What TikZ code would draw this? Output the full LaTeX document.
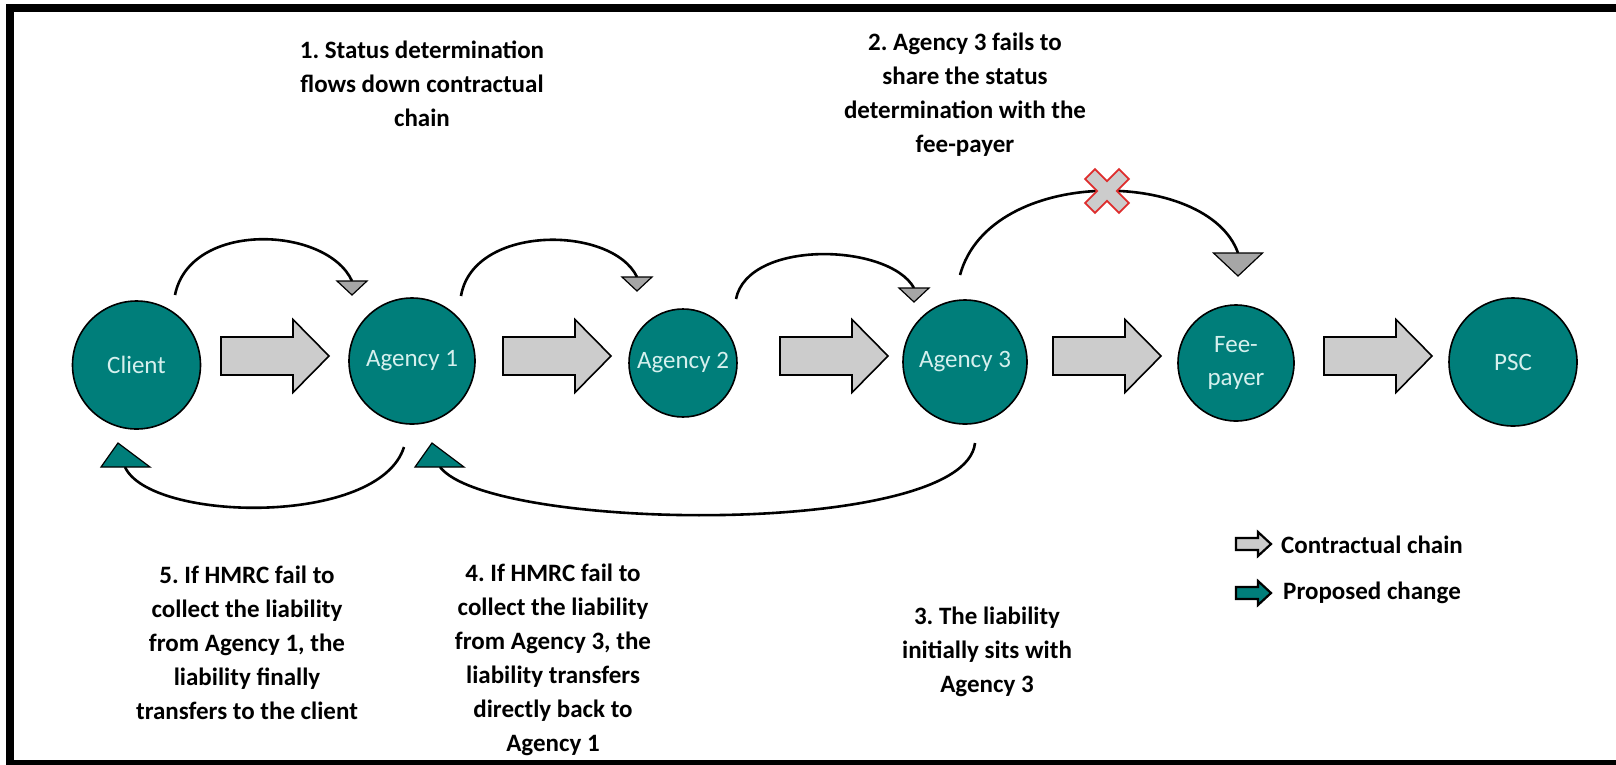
\documentclass[tikz,border=0pt]{standalone}
\usepackage{fontspec}
\setmainfont{Carlito}
\usetikzlibrary{arrows.meta,calc}

\definecolor{tealfill}{RGB}{0,126,122}
\definecolor{chaingray}{RGB}{204,204,204}
\definecolor{tipgray}{RGB}{166,166,166}
\definecolor{nodetext}{RGB}{214,240,238}
\definecolor{crossred}{RGB}{222,45,45}

\tikzset{
  party/.style={circle, draw=black, line width=1.6pt, fill=tealfill,
    text=nodetext, font=\fontsize{25}{33}\selectfont, align=center,
    inner sep=0pt, minimum size=#1},
  note/.style={font=\bfseries\fontsize{25}{34}\selectfont, align=center,
    inner sep=0pt, text=black},
  keytext/.style={font=\bfseries\fontsize{25}{30}\selectfont, anchor=west,
    inner sep=0pt, text=black},
  curveline/.style={line width=2.6pt},
  % flat-topped triangular head pointing down, tip at the pic origin
  pics/arrowhead/.style n args={3}{code={
    \draw[fill=#3, line width=1.2pt, line join=miter]
      (0,0) -- (-#1/2,-#2) -- (#1/2,-#2) -- cycle;}},
  % leaning triangular head pointing up, tip at the pic origin
  pics/backhead/.style={code={
    \draw[fill=#1, line width=1.2pt, line join=miter]
      (0,0) -- (-17,24) -- (32,24) -- cycle;}},
  pics/chainarrow/.style={code={
    \draw[fill=#1, line width=1.6pt, line join=miter]
      (0,-19) -- (72,-19) -- (72,-36.5) -- (108,0) -- (72,36.5)
      -- (72,19) -- (0,19) -- cycle;}},
  pics/keyarrow/.style={code={
    \draw[fill=#1, line width=2.2pt, line join=miter]
      (0,-6) -- (22,-6) -- (22,-12) -- (35,0) -- (22,12)
      -- (22,6) -- (0,6) -- cycle;}}
}

\begin{document}
\frenchspacing
\begin{tikzpicture}[x=1pt,y=-1pt]
\useasboundingbox (0,0) rectangle (1616,764);
\fill[white] (0,0) rectangle (1616,764);

% frame
\draw[line width=8pt, line join=miter] (1625,7.5) -- (10,7.5) -- (10,763.5) -- (1625,763.5);

% parties in the contractual chain
\node[party=128pt] (client) at (136.5,365) {Client};
\node[party=126pt] (ag1)    at (412,361)   {Agency 1};
\node[party=108pt] (ag2)    at (683,363)   {Agency 2};
\node[party=124pt] (ag3)    at (965,362)   {Agency 3};
\node[party=116pt] (fee)    at (1236,363)  {Fee-\\payer};
\node[party=128pt] (psc)    at (1513,362)  {PSC};

% contractual chain block arrows
\pic at (221,356)  {chainarrow=chaingray};
\pic at (503,356)  {chainarrow=chaingray};
\pic at (780,356)  {chainarrow=chaingray};
\pic at (1053,356) {chainarrow=chaingray};
\pic at (1324,356) {chainarrow=chaingray};

% status determination passed down the chain
\coordinate (s1) at (175,295);  \coordinate (t1) at (352,295);  \coordinate (b1) at (352,281);
\coordinate (s2) at (461,296);  \coordinate (t2) at (637,291);  \coordinate (b2) at (637,277);
\coordinate (s3) at (736,299);  \coordinate (t3) at (914,302);  \coordinate (b3) at (914,288);
\coordinate (s4) at (960,275);  \coordinate (t4) at (1238,276); \coordinate (b4) at (1238,253);
\draw[curveline] (s1) .. controls +(15,-75) and +(-25,-55) .. (b1);
\draw[curveline] (s2) .. controls +(12,-72) and +(-25,-52) .. (b2);
\draw[curveline] (s3) .. controls +(12,-60) and +(-25,-45) .. (b3);
\draw[curveline] (s4) .. controls +(30,-110) and +(-30,-85) .. (b4);
\pic at (t1) {arrowhead={30}{14}{tipgray}};
\pic at (t2) {arrowhead={30}{14}{tipgray}};
\pic at (t3) {arrowhead={30}{14}{tipgray}};
\pic at (t4) {arrowhead={49}{23}{tipgray}};

% failed share marker
\coordinate (xmark) at (1107,191);
\draw[crossred, fill=chaingray, line width=1.8pt, line join=miter,
      shift={(xmark)}, rotate=45]
  (7,7) -- (7,24) -- (-7,24) -- (-7,7) -- (-24,7) -- (-24,-7)
  -- (-7,-7) -- (-7,-24) -- (7,-24) -- (7,-7) -- (24,-7)
  -- (24,7) -- cycle;

% liability transfers back
\coordinate (s5) at (404,447);  \coordinate (t5) at (118,443);  \coordinate (b5) at (125,467);
\coordinate (s6) at (975,443);  \coordinate (t6) at (432,443);  \coordinate (b6) at (440,467);
\draw[curveline] (s5) .. controls +(-25,80) and +(25,55) .. (b5);
\draw[curveline] (s6) .. controls +(-10,95) and +(50,65) .. (b6);
\pic at (t5) {backhead=tealfill};
\pic at (t6) {backhead=tealfill};

% explanatory notes
\node[note] (n1) at (422,83.5) {1. Status determination\\flows down contractual\\chain};
\node[note] (n2) at (965,95) {2. Agency 3 fails to\\share the status\\determination with the\\fee-payer};
\node[note] (n3) at (987,652) {3. The liability\\initially sits with\\Agency 3};
\node[note] (n4) at (553,660) {4. If HMRC fail to\\collect the liability\\from Agency 3, the\\liability transfers\\directly back to\\Agency 1};
\node[note] (n5) at (247,643) {5. If HMRC fail to\\collect the liability\\from Agency 1, the\\liability finally\\transfers to the client};

% key
\pic at (1236,544) {keyarrow=chaingray};
\pic at (1236,593) {keyarrow=tealfill};
\node[keytext] (k1) at (1281,545) {Contractual chain};
\node[keytext] (k2) at (1283,593) {Proposed change};
\end{tikzpicture}
\end{document}
